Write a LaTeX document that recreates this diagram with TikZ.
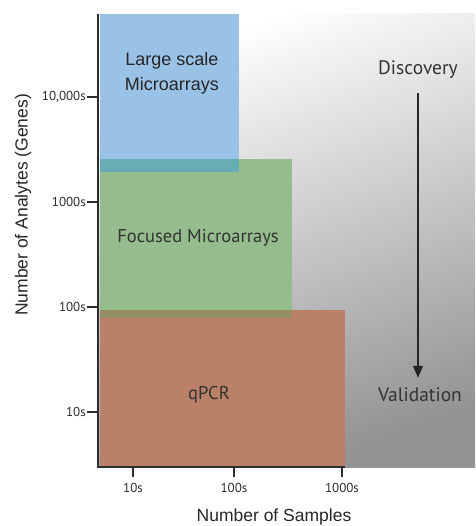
\documentclass[tikz,border=0pt]{standalone}
\usepackage{fontspec}
\setmainfont{Liberation Sans}
\newfontfamily\myriadlike{PT Sans}
\usetikzlibrary{positioning,arrows.meta}
\definecolor{arrayblue}{RGB}{154,194,230}
\definecolor{focusgreen}{RGB}{148,188,140}
\definecolor{pcrred}{RGB}{186,128,104}
\definecolor{bluegreen}{RGB}{102,174,180}
\definecolor{greenred}{RGB}{150,142,98}
\definecolor{axisgray}{RGB}{45,45,45}
\tikzset{
x=1pt, y=-1pt, % pixel-like units, y pointing down
ticklabel/.style={font=\myriadlike\fontsize{13}{13}\selectfont, text=axisgray, inner sep=1pt},
axistitle/.style={font=\fontsize{17.5}{18}\selectfont, text=black!85},
boxlabel/.style={font=\myriadlike\fontsize{18.5}{20}\selectfont, text=black!80, align=center},
flowlabel/.style={font=\myriadlike\fontsize{19.5}{20}\selectfont, text=black!80, inner sep=0pt},
tick/.style={axisgray, line width=1.3pt},
}

\begin{document}
\begin{tikzpicture}
   \useasboundingbox (0,0) rectangle (475,526);
   % grey backdrop behind the chart
   \shade[shading=axis, top color=white, bottom color=black!42, shading angle=20] (98,14) rectangle (475,467);
   % the three platforms, overlaps drawn as strips
   \fill[focusgreen] (100,159) rectangle (292,318);
   \fill[pcrred] (100,310) rectangle (345,467);
   \fill[greenred] (100,310) rectangle (292,318);
   \fill[arrayblue] (100,14) rectangle (239,172);
   \fill[bluegreen] (100,159) rectangle (239,172);
   % axes
   \coordinate (origin) at (98,467);
   \coordinate (ytop) at (98,14);
   \coordinate (xend) at (345,467);
   \draw[axisgray, line width=1.8pt] (ytop) -- (origin) -- (xend);
   \foreach \yy/\lab in {97/{10,000s},202/1000s,307/100s,412/10s} {
      \node[ticklabel, anchor=east] (ytick\yy) at (87,\yy) {\lab};
      \draw[tick] (ytick\yy.east) -- (98,\yy);
   }
   \foreach \xx/\lab in {133/10s,234/100s,342/1000s} {
      \node[ticklabel] (xtick\xx) at (\xx,488) {\lab};
      \draw[tick] (\xx,467) -- (\xx,477);
   }
   \node[axistitle, rotate=90] (ytitle) at (23,205) {Number of Analytes (Genes)};
   \node[axistitle] (xtitle) at (274,517) {Number of Samples};
   % labels inside the boxes
   \node[font=\fontsize{18}{25}\selectfont, text=black!85, align=center] (large) at (172,73) {Large scale\\Microarrays};
   \node[boxlabel] (focused) at (198,238) {Focused Microarrays};
   \node[boxlabel] (qpcr) at (209,395) {qPCR};
   % discovery to validation
   \node[flowlabel] (disc) at (418,70) {Discovery};
   \node[flowlabel] (valid) at (420,395) {Validation};
   \draw[-{Triangle[length=12pt,width=10pt]}, line width=1.3pt, black!85, shorten <=14pt, shorten >=10pt]
      (disc.south) -- (disc.south |- valid.north);
\end{tikzpicture}
\end{document}
